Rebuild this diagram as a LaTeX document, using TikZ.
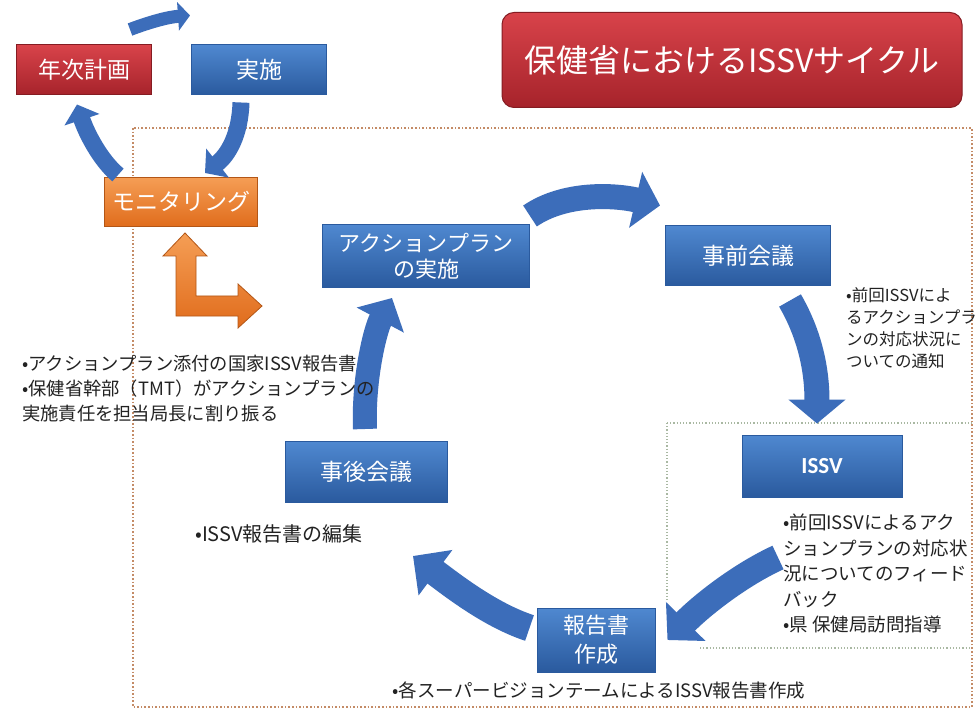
\documentclass[tikz,border=0pt]{standalone}
\usepackage{fontspec}
\newfontfamily\jp{Noto Sans CJK JP}
\newfontfamily\calfont{Carlito}
\usetikzlibrary{arrows.meta,calc}
\definecolor{boxblue}{HTML}{4F88D0}
\definecolor{boxblueD}{HTML}{2A5A9E}
\definecolor{arrblue}{HTML}{3C6DBA}
\definecolor{redT}{HTML}{D8434A}
\definecolor{redB}{HTML}{A6232B}
\definecolor{orT}{HTML}{F59E55}
\definecolor{orB}{HTML}{E06C1C}
\definecolor{frameC}{HTML}{C48B66}
\definecolor{gframe}{HTML}{A9B8A2}
\definecolor{txt}{HTML}{222222}
\begin{document}
\begin{tikzpicture}[x=1pt,y=-1pt,
  boxbase/.style={line width=1pt, text=white, align=center, inner sep=0pt,
    font=\jp\fontsize{23}{28}\selectfont},
  bluebox/.style={boxbase, draw=boxblueD, top color=boxblue, bottom color=boxblueD},
  redbox/.style={boxbase, draw=redB!80!black, top color=redT, bottom color=redB},
  orbox/.style={boxbase, draw=orB!80!black, top color=orT, bottom color=orB},
  bigarrow/.style={draw=arrblue, line width=#1},
  note/.style={text=txt, align=left, inner sep=0pt},
  outerframe/.style={draw=frameC, dotted, line width=1.6pt},
  innerframe/.style={draw=gframe, dotted, line width=1.2pt}
]
\clip (0,0) rectangle (977,711);
\fill[white] (0,0) rectangle (977,711);

% frames
\draw[outerframe] (133,128) rectangle (972,707);
\draw[innerframe] (667,423) -- (972,423);
\draw[innerframe] (667,423) -- (667,600);
\draw[innerframe] (700,648) -- (972,648);

% boxes
\node[redbox, minimum width=135pt, minimum height=50pt] (plan) at (84,70) {年次計画};
\node[bluebox, minimum width=135pt, minimum height=50pt] (impl) at (259,70) {実施};
\node[orbox, minimum width=153pt, minimum height=49pt] (mon) at (181,202) {モニタリング};
\node[redbox, rounded corners=12pt, minimum width=460pt, minimum height=95pt,
  font=\jp\fontsize{32}{36}\selectfont] (title) at (732,60) {保健省におけるISSVサイクル};
\node[bluebox, minimum width=207pt, minimum height=63pt, font=\jp\fontsize{22}{26}\selectfont] (act) at (426,256) {アクションプラン\\の実施};
\node[bluebox, minimum width=165pt, minimum height=60pt] (pre) at (748,256) {事前会議};
\node[bluebox, minimum width=160pt, minimum height=62pt, font=\calfont\bfseries\fontsize{23}{26}\selectfont] (issv) at (822,466) {ISSV};
\node[bluebox, minimum width=118pt, minimum height=64pt, font=\jp\fontsize{22}{29}\selectfont] (report) at (596,640) {報告書\\作成};
\node[bluebox, minimum width=162pt, minimum height=61pt] (post) at (366,472) {事後会議};

% arrows
\draw[bigarrow=13pt, -{Triangle[width=28pt,length=12pt]}]
  ($(plan.north east)+(-22,-15)$) .. controls (150,22) and (168,17) .. ($(impl.north west)+(-1,-29)$);
\draw[bigarrow=17pt, -{Triangle[width=36pt,length=16pt]}]
  ($(impl.south)+(-18,7)$) .. controls (240,135) and (228,155) .. ($(mon.north)+(24,-4)$);
\draw[bigarrow=17pt, -{Triangle[width=36pt,length=16pt]}]
  ($(mon.north)+(-63,-2)$) .. controls (100,160) and (86,132) .. ($(plan.south)+(-7,9)$);
\draw[bigarrow=25pt, -{Triangle[width=56pt,length=25pt]}]
  ($(act.north east)+(0,-8)$) .. controls (565,192) and (615,195) .. ($(pre.north west)+(-5,-20)$);
\draw[bigarrow=25pt, -{Triangle[width=56pt,length=24pt]}]
  ($(pre.south)+(42,14)$) .. controls (810,335) and (817,370) .. ($(issv.north)+(-5,-11)$);
\draw[bigarrow=26pt, -{Triangle[width=54pt,length=26pt]}]
  ($(issv.south)+(-44,60)$) .. controls (740,575) and (702,605) .. ($(report.east)+(12,0)$);
\draw[bigarrow=27pt, -{Triangle[width=55pt,length=28pt]}]
  ($(report.west)+(-7,-12)$) .. controls (490,615) and (452,585) .. ($(post.south)+(47,53)$);
\draw[bigarrow=24pt, -{Triangle[width=52pt,length=25pt]}]
  ($(post.north)+(-1,-12)$) .. controls (363,380) and (375,330) .. ($(act.south)+(-34,10)$);

% orange L double arrow
\path[draw=orB!80!black, line width=0.8pt, top color=orT, bottom color=orB]
  (185,233) -- (207,256) -- (196,256) -- (196,296) -- (238,296) -- (238,284)
  -- (262,306) -- (238,328) -- (238,316) -- (176,316) -- (176,256) -- (163,256) -- cycle;

% notes
\node[note, anchor=north west, font=\jp\fontsize{16.5}{22}\selectfont] (n1) at (846,287)
  {•前回ISSVによ\\るアクションプラ\\ンの対応状況に\\ついての通知};
\node[note, anchor=north west, font=\jp\fontsize{18.5}{25.5}\selectfont] (n2) at (783,514)
  {•前回ISSVによるアク\\ションプランの対応状\\況についてのフィード\\バック\\•県 保健局訪問指導};
\node[note, anchor=north west, font=\jp\fontsize{18.3}{25}\selectfont] (n3) at (22,355)
  {•アクションプラン添付の国家ISSV報告書\\•保健省幹部（TMT）がアクションプランの\\実施責任を担当局長に割り振る};
\node[note, anchor=west, font=\jp\fontsize{20}{22}\selectfont] (n4) at (195,534) {•ISSV報告書の編集};
\node[note, anchor=center, font=\jp\fontsize{18.5}{22}\selectfont] (n5) at (599,690) {•各スーパービジョンテームによるISSV報告書作成};
\end{tikzpicture}
\end{document}
